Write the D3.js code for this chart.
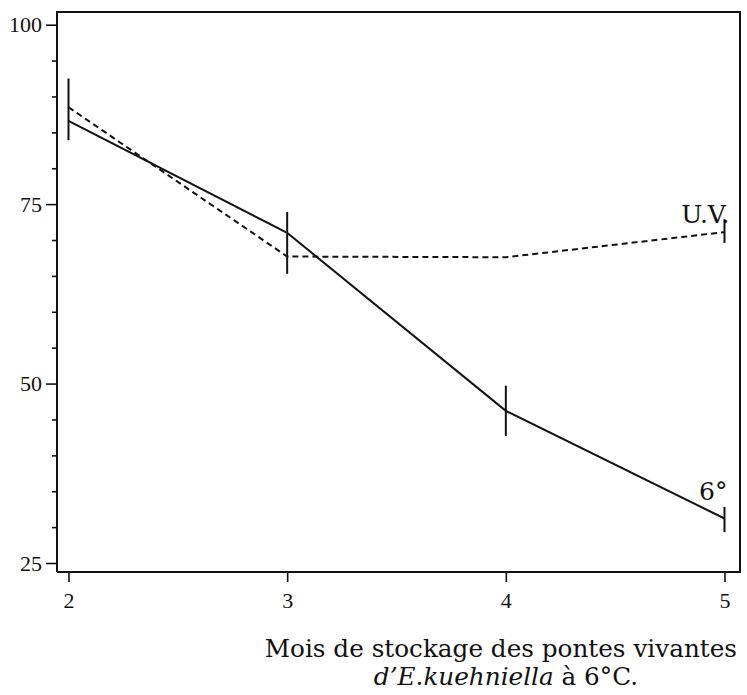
<!DOCTYPE html>
<html>
<head>
<meta charset="utf-8">
<script src="https://cdn.jsdelivr.net/npm/d3@7"></script>
<style>
  body { margin: 0; background: #fff; }
  svg { display: block; }
</style>
</head>
<body>
<div id="chart"></div>
<script>
// months of storage
var months = [2, 3, 4, 5];
// 6°C series (solid) and U.V. series (dashed)
var sixDeg = [86.6, 71.0, 46.2, 31.2];
var uv = [88.5, 67.7, 67.6, 71.1];
// vertical bars (low / high), null where there is none
var sixLow = [83.9, 65.3, 42.7, 29.3];
var sixHigh = [92.5, 73.9, 49.7, 32.8];
var uvLow = [null, null, null, 69.6];
var uvHigh = [null, null, null, 72.9];
var yMajor = [25, 50, 75, 100];
var yMinor = [30, 35, 40, 45, 55, 60, 65, 70, 80, 85, 90, 95];

var width = 747,
    height = 695;

// frame edges (not "top": that name is taken by window.top)
var fLeft = 57, fRight = 740, fTop = 12, fBottom = 572;

var x = d3.scaleLinear()
    .domain([2, 5])
    .range([68.5, 724.5]);

var y = d3.scaleLinear()
    .domain([25, 100])
    .range([563, 24.7]);

var svg = d3.select("#chart").append("svg")
    .attr("width", width)
    .attr("height", height);

// frame
svg.append("path")
    .attr("d", "M" + fLeft + "," + fBottom + "V" + fTop + "H" + fRight + "V" + fBottom + "H" + fLeft)
    .attr("fill", "none")
    .attr("stroke", "#111")
    .attr("stroke-width", 2);

// y axis
var yAxis = d3.axisLeft(y)
    .tickValues(yMajor)
    .tickSize(11)
    .tickPadding(4)
    .tickFormat(d3.format("d"));

var gy = svg.append("g")
    .attr("transform", "translate(" + fLeft + ",0)")
    .call(yAxis);
gy.select(".domain").remove();
gy.selectAll("line").attr("stroke", "#111").attr("stroke-width", 1.6);
gy.selectAll("text")
    .attr("fill", "#111")
    .style("font-family", "'Liberation Serif', serif")
    .style("font-size", "22px");

var gyMinor = svg.append("g")
    .attr("transform", "translate(" + fLeft + ",0)")
    .call(d3.axisLeft(y).tickValues(yMinor).tickSize(5).tickFormat(""));
gyMinor.select(".domain").remove();
gyMinor.selectAll("line").attr("stroke", "#111").attr("stroke-width", 1.6);

// x axis
var xAxis = d3.axisBottom(x)
    .tickValues(months)
    .tickSize(10)
    .tickPadding(10)
    .tickFormat(d3.format("d"));

var gx = svg.append("g")
    .attr("transform", "translate(0," + fBottom + ")")
    .call(xAxis);
gx.select(".domain").remove();
gx.selectAll("line").attr("stroke", "#111").attr("stroke-width", 1.6);
gx.selectAll("text")
    .attr("fill", "#111")
    .style("font-family", "'Liberation Serif', serif")
    .style("font-size", "22px");

// lines
var line = d3.line()
    .x(function(d, i) { return x(months[i]); })
    .y(function(d) { return y(d); });

svg.append("path")
    .datum(uv)
    .attr("d", line)
    .attr("fill", "none")
    .attr("stroke", "#111")
    .attr("stroke-width", 2)
    .attr("stroke-dasharray", "6,4");

svg.append("path")
    .datum(sixDeg)
    .attr("d", line)
    .attr("fill", "none")
    .attr("stroke", "#111")
    .attr("stroke-width", 2);

// bars
function bars(low, high) {
  var pts = [];
  for (var i = 0; i < months.length; i++) {
    if (low[i] != null) pts.push({ m: months[i], lo: low[i], hi: high[i] });
  }
  svg.append("g").selectAll("line")
      .data(pts)
      .enter().append("line")
      .attr("x1", function(d) { return x(d.m); })
      .attr("x2", function(d) { return x(d.m); })
      .attr("y1", function(d) { return y(d.lo); })
      .attr("y2", function(d) { return y(d.hi); })
      .attr("stroke", "#111")
      .attr("stroke-width", 2);
}
bars(sixLow, sixHigh);
bars(uvLow, uvHigh);

// series labels
svg.append("text")
    .attr("x", x(5) + 5)
    .attr("y", y(uv[3]) - 9)
    .attr("text-anchor", "end")
    .attr("fill", "#111")
    .style("font-family", "'DejaVu Serif', serif")
    .style("font-size", "25px")
    .text("U.V.");

svg.append("text")
    .attr("x", x(5) + 3)
    .attr("y", y(sixDeg[3]) - 19)
    .attr("text-anchor", "end")
    .attr("fill", "#111")
    .style("font-family", "'DejaVu Serif', serif")
    .style("font-size", "25px")
    .text("6°");

// axis title
svg.append("text")
    .attr("x", 737)
    .attr("y", 657)
    .attr("text-anchor", "end")
    .attr("fill", "#111")
    .style("font-family", "'DejaVu Serif', serif")
    .style("font-size", "24.7px")
    .text("Mois de stockage des pontes vivantes");

var t2 = svg.append("text")
    .attr("x", 638)
    .attr("y", 685)
    .attr("text-anchor", "end")
    .attr("fill", "#111")
    .style("font-family", "'DejaVu Serif', serif")
    .style("font-size", "24.7px");
t2.append("tspan").style("font-style", "italic").text("d’E.kuehniella");
t2.append("tspan").text(" à 6°C.");
</script>
</body>
</html>
